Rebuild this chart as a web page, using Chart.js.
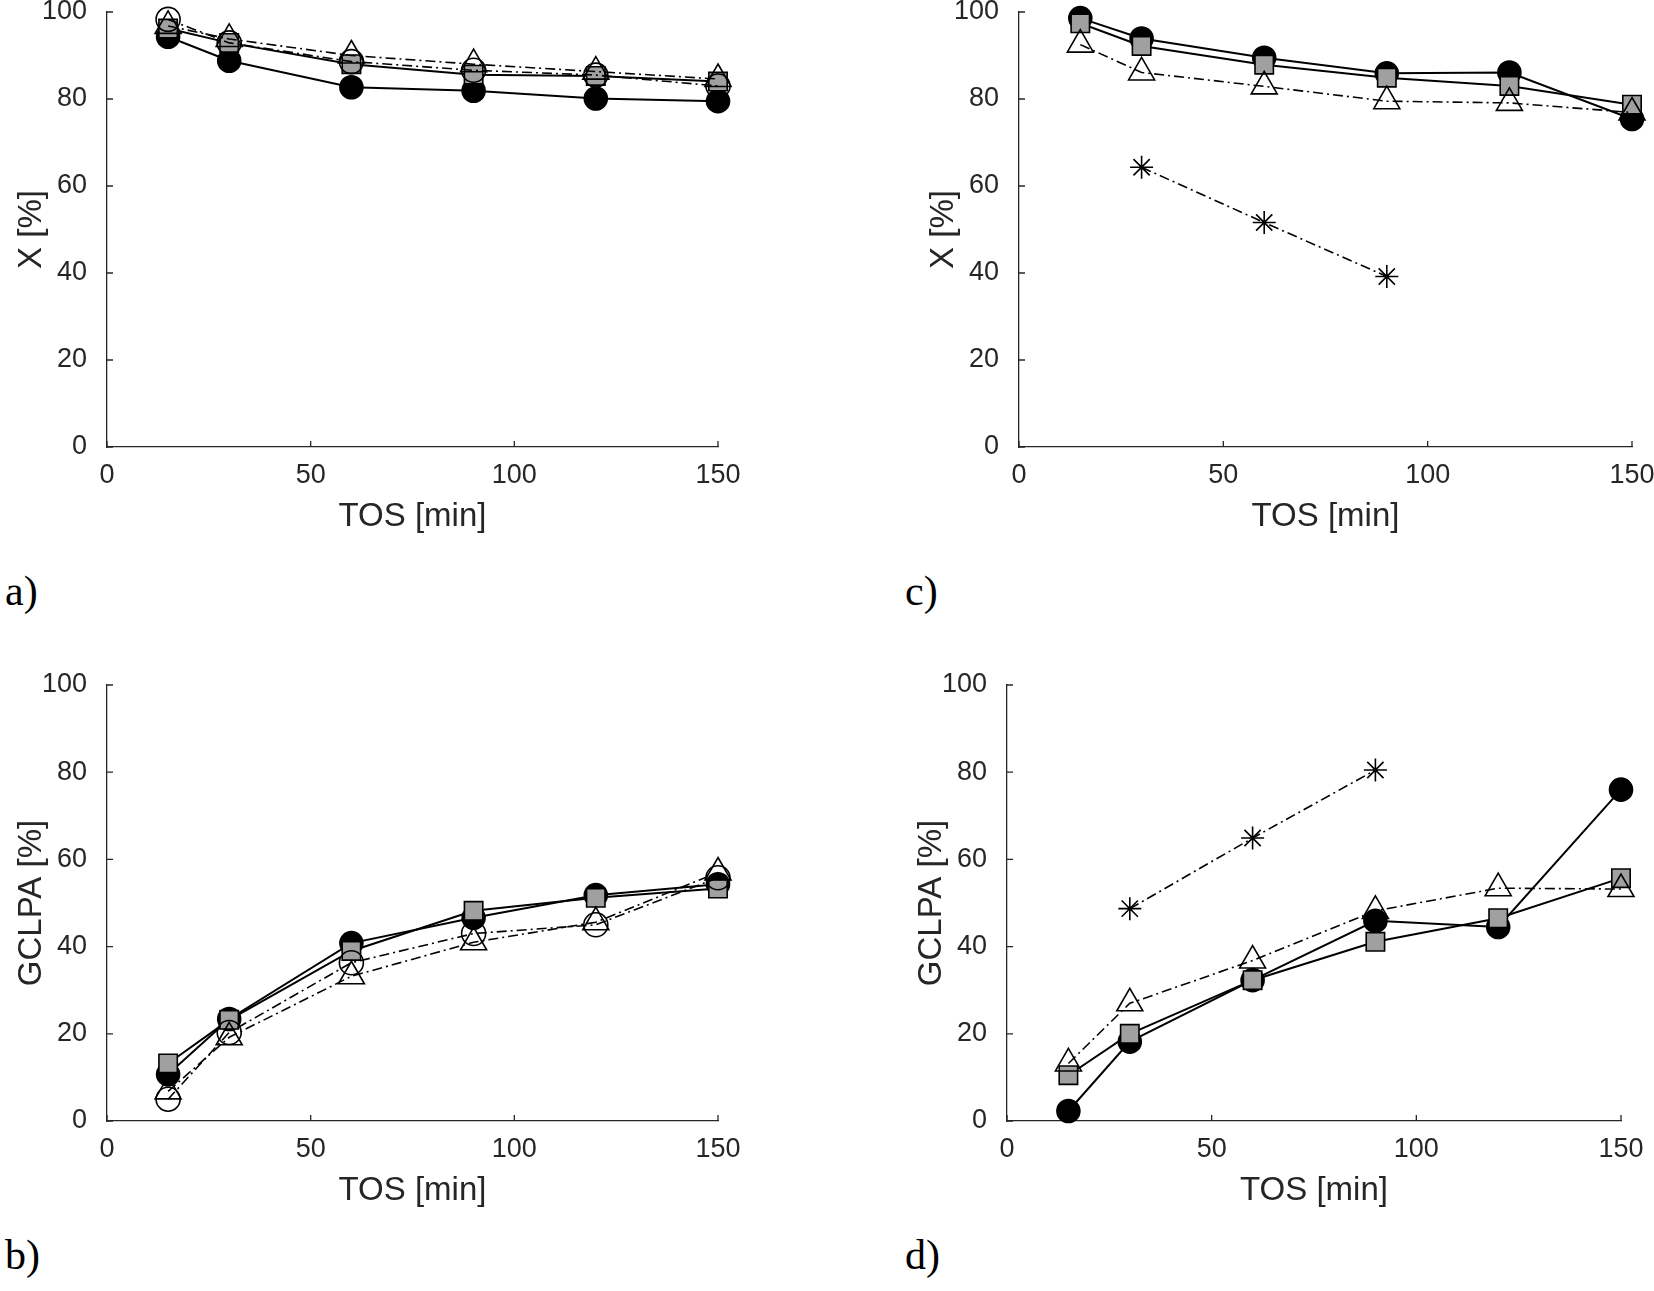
<!DOCTYPE html>
<html>
<head>
<meta charset="utf-8">
<script src="https://cdn.jsdelivr.net/npm/chart.js@4.4.1/dist/chart.umd.min.js"></script>
<style>
  html, body { margin: 0; padding: 0; background: #fff; }
  body { width: 1654px; height: 1291px; position: relative; overflow: hidden; }
  canvas { position: absolute; }
  .tag { position: absolute; font-family: "Liberation Serif", "Times New Roman", serif; font-size: 42px; line-height: 42px; color: #000; }
</style>
</head>
<body>
<canvas id="panelA"></canvas>
<canvas id="panelB"></canvas>
<canvas id="panelC"></canvas>
<canvas id="panelD"></canvas>
<div class="tag" style="left:5px; top:570px;">a)</div>
<div class="tag" style="left:5px; top:1234px;">b)</div>
<div class="tag" style="left:905px; top:570px;">c)</div>
<div class="tag" style="left:905px; top:1234px;">d)</div>
<script>
// time on stream [min]
const tos = [15, 30, 60, 90, 120, 150];
const xTicks = [0, 50, 100, 150];
const yTicks = [0, 20, 40, 60, 80, 100];

// a) conversion X [%]
const aFilledCircle = [94.3, 88.8, 82.7, 81.9, 80.1, 79.5];
const aGraySquare   = [96.2, 92.9, 88.0, 85.6, 85.3, 84.0];
const aOpenCircle   = [98.3, 92.9, 88.6, 86.6, 85.5, 83.0];
const aOpenTriangle = [96.8, 93.8, 90.0, 88.0, 86.3, 84.6];

// b) GCLPA [%]
const bFilledCircle = [10.7, 23.4, 40.8, 46.6, 51.8, 54.3];
const bGraySquare   = [13.2, 23.2, 39.0, 48.2, 51.2, 53.3];
const bOpenCircle   = [5.0, 20.3, 36.3, 43.0, 45.0, 55.8];
const bOpenTriangle = [6.8, 19.2, 33.2, 41.0, 45.6, 57.0];

// c) conversion X [%]
const cFilledCircle = [98.6, 93.9, 89.5, 85.9, 86.1, 75.4];
const cGraySquare   = [97.4, 92.2, 87.9, 84.9, 83.0, 78.7];
const cOpenTriangle = [92.5, 86.1, 82.9, 79.5, 79.1, 76.9];
const cStar         = [null, 64.3, 51.6, 39.2, null, null];

// d) GCLPA [%]
const dFilledCircle = [2.3, 18.2, 32.3, 45.9, 44.5, 76.0];
const dGraySquare   = [10.5, 20.0, 32.3, 41.1, 46.5, 55.7];
const dOpenTriangle = [13.2, 27.0, 36.8, 48.2, 53.4, 53.2];
const dStar         = [null, 48.7, 64.9, 80.5, null, null];

const AXIS = '#262626';
const FONT = '"Liberation Sans", Arial, sans-serif';
const YW = 110, XH = 100, PAD_T = 30, PAD_R = 40;
const DASHDOT = [10, 4, 2, 4];

// marker / line looks
const styles = {
  filledCircle: { pointStyle: 'circle', pointRadius: 11.5, backgroundColor: '#000', borderDash: [], borderWidth: 2 },
  graySquare:   { pointStyle: 'rect', pointRadius: 13, backgroundColor: '#a0a0a0', borderDash: [], borderWidth: 2 },
  openCircle:   { pointStyle: 'circle', pointRadius: 12, backgroundColor: 'rgba(0,0,0,0)', borderDash: DASHDOT, borderWidth: 1.6 },
  openTriangle: { pointStyle: 'triangle', pointRadius: 15, backgroundColor: 'rgba(0,0,0,0)', borderDash: DASHDOT, borderWidth: 1.6 },
  star:         { pointStyle: 'star', pointRadius: 11.5, backgroundColor: 'rgba(0,0,0,0)', borderDash: DASHDOT, borderWidth: 1.6 }
};

function series(values, kind, order) {
  const s = styles[kind];
  return {
    data: tos.map((t, i) => ({ x: t, y: values[i] })),
    borderColor: '#000',
    borderWidth: s.borderWidth,
    borderDash: s.borderDash,
    pointStyle: s.pointStyle,
    pointRadius: s.pointRadius,
    pointBackgroundColor: s.backgroundColor,
    pointBorderColor: '#000',
    pointBorderWidth: 1.6,
    fill: false,
    tension: 0,
    spanGaps: false,
    clip: false,
    order: order
  };
}

const innerTicks = {
  id: 'innerTicks',
  afterDraw(chart) {
    const ctx = chart.ctx;
    const xs = chart.scales.x, ys = chart.scales.y;
    const { left, bottom } = chart.chartArea;
    ctx.save();
    ctx.strokeStyle = AXIS;
    ctx.lineWidth = 1.3;
    ctx.beginPath();
    xTicks.forEach(v => {
      const px = xs.getPixelForValue(v);
      ctx.moveTo(px, bottom);
      ctx.lineTo(px, bottom - 6);
    });
    yTicks.forEach(v => {
      const py = ys.getPixelForValue(v);
      ctx.moveTo(left, py);
      ctx.lineTo(left + 6, py);
    });
    ctx.stroke();
    ctx.restore();
  }
};

function makePanel(id, yTitle, datasets, x0, x1, yT, yB) {
  const cv = document.getElementById(id);
  const w = Math.round(YW + (x1 - x0) + PAD_R);
  const h = Math.round(PAD_T + (yB - yT) + XH);
  cv.width = w; cv.height = h;
  cv.style.width = w + 'px'; cv.style.height = h + 'px';
  cv.style.left = Math.round(x0 - YW) + 'px';
  cv.style.top = Math.round(yT - PAD_T) + 'px';

  new Chart(cv.getContext('2d'), {
    type: 'line',
    data: { datasets: datasets },
    plugins: [innerTicks],
    options: {
      responsive: false,
      animation: false,
      devicePixelRatio: 1,
      layout: { padding: { top: PAD_T, right: PAD_R, left: 0, bottom: 0 } },
      plugins: { legend: { display: false }, tooltip: { enabled: false } },
      scales: {
        x: {
          type: 'linear', min: 0, max: 150,
          afterBuildTicks: s => { s.ticks = xTicks.map(v => ({ value: v })); },
          afterFit: s => { s.height = XH; },
          grid: { display: false },
          border: { display: true, color: AXIS, width: 1.3 },
          ticks: { color: AXIS, padding: 4, maxRotation: 0, font: { family: FONT, size: 27 } },
          title: { display: true, text: 'TOS [min]', color: AXIS, padding: { top: 0, bottom: 10 }, font: { family: FONT, size: 33 } }
        },
        y: {
          type: 'linear', min: 0, max: 100,
          afterBuildTicks: s => { s.ticks = yTicks.map(v => ({ value: v })); },
          afterFit: s => { s.width = YW; },
          grid: { display: false },
          border: { display: true, color: AXIS, width: 1.3 },
          ticks: { color: AXIS, padding: 12, font: { family: FONT, size: 27 } },
          title: { display: true, text: yTitle, color: AXIS, padding: { top: 15, bottom: 0 }, font: { family: FONT, size: 33 } }
        }
      }
    }
  });
}

makePanel('panelA', 'X [%]', [
  series(aFilledCircle, 'filledCircle', 4),
  series(aGraySquare, 'graySquare', 3),
  series(aOpenCircle, 'openCircle', 2),
  series(aOpenTriangle, 'openTriangle', 1)
], 106.5, 717.3, 11.7, 446.7);

makePanel('panelB', 'GCLPA [%]', [
  series(bFilledCircle, 'filledCircle', 4),
  series(bGraySquare, 'graySquare', 3),
  series(bOpenCircle, 'openCircle', 2),
  series(bOpenTriangle, 'openTriangle', 1)
], 106.5, 717.3, 685, 1120.7);

makePanel('panelC', 'X [%]', [
  series(cFilledCircle, 'filledCircle', 4),
  series(cGraySquare, 'graySquare', 3),
  series(cOpenTriangle, 'openTriangle', 2),
  series(cStar, 'star', 1)
], 1019, 1632, 11.7, 446.7);

makePanel('panelD', 'GCLPA [%]', [
  series(dFilledCircle, 'filledCircle', 4),
  series(dGraySquare, 'graySquare', 3),
  series(dOpenTriangle, 'openTriangle', 2),
  series(dStar, 'star', 1)
], 1007, 1621, 685, 1120.7);
</script>
</body>
</html>
